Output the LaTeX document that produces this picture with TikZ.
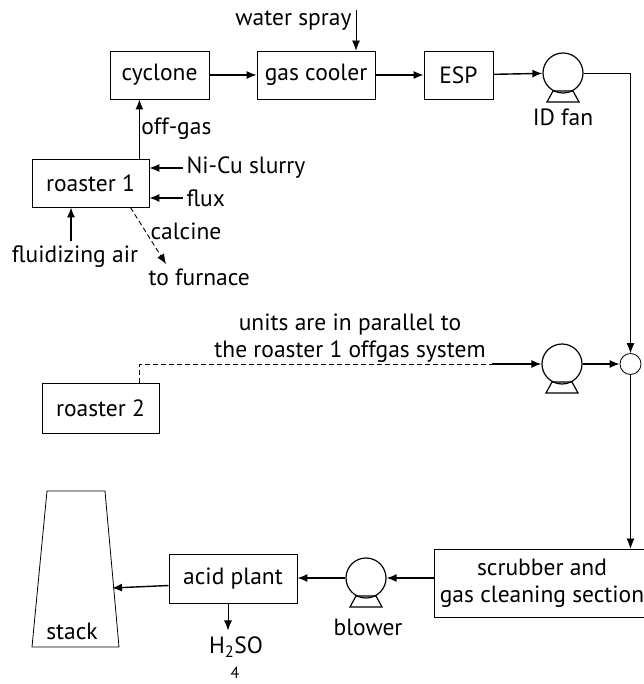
\documentclass[tikz,border=0pt]{standalone}
\usepackage{fontspec}
\setmainfont{PT Sans}
\usepackage{tikz}
\usetikzlibrary{arrows.meta,calc}

\begin{document}
\begin{tikzpicture}[x=1pt,y=-1pt,
    font=\fontsize{23.5}{27}\selectfont,
    unit/.style={draw, line width=0.8pt, minimum height=48pt, inner sep=1pt},
    fan/.style={draw, circle, line width=1.2pt, minimum size=40pt, inner sep=0pt},
    flow/.style={-{Latex[length=10pt,width=8pt]}, line width=1.4pt},
    thinflow/.style={-{Latex[length=10pt,width=8pt]}, line width=0.7pt}]
  \useasboundingbox (0,0) rectangle (643,684);

  % roaster 1 off-gas line
  \node[unit, minimum width=99pt] (cyclone) at (159.5,75) {cyclone};
  \node[unit, minimum width=118pt] (cooler) at (316,75) {gas cooler};
  \node[unit, minimum width=69pt] (esp) at (458.5,75) {ESP};
  \node[fan] (idfan) at (563,73) {};
  \node at (563,117) {ID fan};
  \node[anchor=east] (spray) at (355,21) {water spray};
  \coordinate (sprayin) at (356,10);

  \node[unit, minimum width=117pt] (roaster1) at (90.5,183) {roaster 1};
  \node[anchor=west] (slurry) at (183,168) {Ni-Cu slurry};
  \node[anchor=west] (flux) at (183,198) {flux};
  \node (air) at (75,257) {fluidizing air};
  \node[anchor=west] (calcine) at (147,231) {calcine};
  \node[anchor=west] (furnace) at (145,277) {to furnace};

  \draw[flow] ($(roaster1.north east)+(-10,0)$) coordinate (og) -- (og |- cyclone.south)
    node[midway, right, xshift=-2pt] {off-gas};
  \draw[flow] (cyclone) -- (cooler);
  \draw[flow] (cooler) -- (esp);
  \draw[flow] (esp) -- (idfan);
  \draw[thinflow] (sprayin) -- (sprayin |- cooler.north);
  \draw[flow] (slurry.west) -- (slurry.west -| roaster1.east);
  \draw[flow] (flux.west) -- (flux.west -| roaster1.east);
  \draw[flow] ($(air.north)+(-4,-2)$) -- ($(air.north |- roaster1.south)+(-4,0)$);
  \draw[thinflow, line width=0.9pt, dash pattern=on 5pt off 3pt]
    ($(roaster1.south east)+(-19,0)$) -- ($(furnace.north west)+(21,-1)$);

  % roaster 2 and junction
  \node[unit, minimum width=117pt, minimum height=50pt] (roaster2) at (100.5,408) {roaster 2};
  \node[fan] (fanb) at (562,364) {};
  \node[draw, circle, line width=0.8pt, minimum size=21pt, inner sep=0pt] (junction) at (630.5,364) {};
  \node[align=center] (note) at (350,338) {units are in parallel to\\the roaster 1 offgas system};
  \coordinate (dashend) at (492,364);

  \draw[line width=1pt, dash pattern=on 5pt off 3pt] ($(roaster2.north east)+(-20,0)$) |- (dashend);
  \draw[flow] (dashend) -- (fanb.west);
  \draw[flow] (fanb.east) -- (junction.west);
  \draw[thinflow] (idfan.east) -| (junction.north);

  % gas cleaning and acid plant
  \node[unit, minimum width=216pt, minimum height=68pt, align=center] (scrubber) at (542,583)
    {scrubber and\\gas cleaning section};
  \node[fan] (blower) at (366,578) {};
  \node at (368,627) {blower};
  \node[unit, minimum width=128pt, minimum height=49pt] (acid) at (233,578.5) {acid plant};
  \node (h2so) at (236,647) {H\textsubscript{2}SO};
  \node at (235,673) {\fontsize{16}{18}\selectfont 4};

  \draw[line width=0.8pt] (47,491) coordinate (st1) -- (105,491) coordinate (st2)
    -- (119,647) coordinate (st3) -- (32,647) coordinate (st4) -- cycle;
  \node (stack) at (72,631) {stack};
  \coordinate (stackin) at (112,588);

  \draw[thinflow] (junction.south) -- (junction.south |- scrubber.north);
  \draw[flow] (blower.east -| scrubber.west) -- (blower.east);
  \draw[flow] (blower.west) -- (blower.west -| acid.east);
  \draw[flow] ($(acid.west)+(0,7)$) -- (stackin);
  \draw[thinflow] ($(acid.south)+(-5,0)$) -- ($(acid.south)+(-5,27)$);

  % fan feet
  \foreach \f in {idfan,fanb,blower}
    \draw[line width=1.2pt] ($(\f)+(-10,18)$) -- ($(\f)+(10,18)$) -- ($(\f)+(16,29)$) -- ($(\f)+(-16,29)$) -- cycle;
\end{tikzpicture}
\end{document}
